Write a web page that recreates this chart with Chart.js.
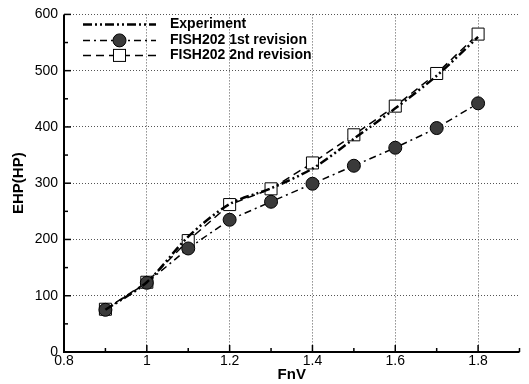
<!DOCTYPE html>
<html>
<head>
<meta charset="utf-8">
<script src="https://cdn.jsdelivr.net/npm/chart.js@4"></script>
<style>
  html, body { margin: 0; padding: 0; background: #fff; }
  #wrap { width: 529px; height: 384px; position: relative; }
</style>
</head>
<body>
<div id="wrap"><canvas id="chart"></canvas></div>
<script>
// --- dados ---
const fnv = [0.9, 1.0, 1.1, 1.2, 1.3, 1.4, 1.5, 1.6, 1.7, 1.8];
const experiment = [75, 124, 205, 263, 291, 326, 379, 433, 491, 560];
const rev1 = [75, 123, 184, 235, 267, 299, 331, 363, 398, 442];
const rev2 = [76, 124, 198, 262, 290, 336, 386, 437, 495, 565];
const xTicks = [0.8, 1.0, 1.2, 1.4, 1.6, 1.8];
const yTicks = [0, 100, 200, 300, 400, 500, 600];
const legendLabels = ['Experiment', 'FISH202 1st revision', 'FISH202 2nd revision'];

const FONT = 'Liberation Sans, Arial, sans-serif';

function pts(ys) {
  return fnv.map((x, i) => ({ x: x, y: ys[i] }));
}

// eixos sólidos, ticks internos (maiores e menores) e legenda dentro da área
const extras = {
  id: 'extras',
  beforeDatasetsDraw(chart) {
    const { ctx, chartArea: a, scales: { x, y } } = chart;
    ctx.save();
    ctx.strokeStyle = '#000';
    ctx.lineWidth = 2;
    ctx.beginPath();
    ctx.moveTo(a.left, a.top);
    ctx.lineTo(a.left, a.bottom);
    ctx.lineTo(a.right, a.bottom);
    ctx.stroke();
    ctx.lineWidth = 1.5;
    for (let v = 0.8; v <= 1.9001; v += 0.1) {
      const px = x.getPixelForValue(v);
      const major = Math.round(v * 10) % 2 === 0;
      ctx.beginPath();
      ctx.moveTo(px, a.bottom);
      ctx.lineTo(px, a.bottom - (major ? 7 : 4));
      ctx.stroke();
    }
    for (let v = 0; v <= 600; v += 50) {
      const py = y.getPixelForValue(v);
      const major = v % 100 === 0;
      ctx.beginPath();
      ctx.moveTo(a.left, py);
      ctx.lineTo(a.left + (major ? 7 : 4), py);
      ctx.stroke();
    }
    ctx.restore();
  },
  afterDatasetsDraw(chart) {
    const { ctx, chartArea: a } = chart;
    ctx.save();
    const lx0 = a.left + 19, lx1 = a.left + 92, tx = a.left + 106;
    const rows = [a.top + 10, a.top + 26, a.top + 41];
    chart.data.datasets.forEach((ds, i) => {
      const ry = rows[i];
      ctx.setLineDash(ds.borderDash);
      ctx.lineWidth = ds.borderWidth;
      ctx.strokeStyle = '#000';
      ctx.beginPath();
      ctx.moveTo(lx0, ry);
      ctx.lineTo(lx1, ry);
      ctx.stroke();
      ctx.setLineDash([]);
      const mx = (lx0 + lx1) / 2;
      if (ds.pointStyle === 'circle' && ds.pointRadius > 0) {
        ctx.fillStyle = ds.pointBackgroundColor;
        ctx.lineWidth = 1;
        ctx.beginPath();
        ctx.arc(mx, ry, ds.pointRadius, 0, Math.PI * 2);
        ctx.fill();
        ctx.stroke();
      } else if (ds.pointStyle === 'rect') {
        const s = ds.pointRadius * Math.SQRT2;
        ctx.fillStyle = '#fff';
        ctx.lineWidth = 1;
        ctx.fillRect(mx - s / 2, ry - s / 2, s, s);
        ctx.strokeRect(mx - s / 2, ry - s / 2, s, s);
      }
      ctx.fillStyle = '#000';
      ctx.font = 'bold 14px ' + FONT;
      ctx.textBaseline = 'middle';
      ctx.textAlign = 'left';
      ctx.fillText(legendLabels[i], tx, ry);
    });
    ctx.restore();
  }
};

new Chart(document.getElementById('chart'), {
  type: 'line',
  data: {
    datasets: [
      {
        label: legendLabels[0],
        data: pts(experiment),
        borderColor: '#000',
        borderWidth: 2.5,
        borderDash: [9, 3, 2, 3, 2, 3],
        pointRadius: 0,
        pointStyle: 'circle',
        tension: 0.3
      },
      {
        label: legendLabels[1],
        data: pts(rev1),
        borderColor: '#000',
        borderWidth: 1.5,
        borderDash: [7, 4, 2, 4],
        pointStyle: 'circle',
        pointRadius: 6.5,
        pointBackgroundColor: '#3a3a3a',
        pointBorderColor: '#000',
        pointBorderWidth: 1,
        tension: 0
      },
      {
        label: legendLabels[2],
        data: pts(rev2),
        borderColor: '#000',
        borderWidth: 1.5,
        borderDash: [8, 5],
        pointStyle: 'rect',
        pointRadius: 8.5,
        pointBackgroundColor: '#fff',
        pointBorderColor: '#000',
        pointBorderWidth: 1,
        tension: 0
      }
    ]
  },
  options: {
    responsive: true,
    maintainAspectRatio: false,
    animation: false,
    layout: { padding: { top: 11, right: 7, bottom: 0, left: 0 } },
    plugins: { legend: { display: false }, tooltip: { enabled: false } },
    scales: {
      x: {
        type: 'linear',
        min: 0.8,
        max: 1.9,
        afterBuildTicks: (s) => { s.ticks = xTicks.map(v => ({ value: v })); },
        afterFit: (s) => { s.height = 32; },
        ticks: {
          color: '#000',
          font: { family: FONT, size: 14 },
          padding: 1,
          callback: (v) => String(Math.round(v * 10) / 10)
        },
        grid: { color: '#555', lineWidth: 1, drawTicks: false, tickLength: 0 },
        border: { display: false, dash: [1, 2] },
        title: {
          display: true, text: 'FnV', color: '#000',
          font: { family: FONT, size: 15, weight: 'bold' }, padding: { top: 0, bottom: 0 }
        }
      },
      y: {
        min: 0,
        max: 600,
        afterBuildTicks: (s) => { s.ticks = yTicks.map(v => ({ value: v })); },
        afterFit: (s) => { s.width = 64; },
        ticks: {
          color: '#000',
          font: { family: FONT, size: 14 },
          padding: 6
        },
        grid: { color: '#555', lineWidth: 1, drawTicks: false, tickLength: 0 },
        border: { display: false, dash: [1, 2] },
        title: {
          display: true, text: 'EHP(HP)', color: '#000',
          font: { family: FONT, size: 15, weight: 'bold' }, padding: { top: 10, bottom: 0 }
        }
      }
    }
  },
  plugins: [extras]
});
</script>
</body>
</html>
